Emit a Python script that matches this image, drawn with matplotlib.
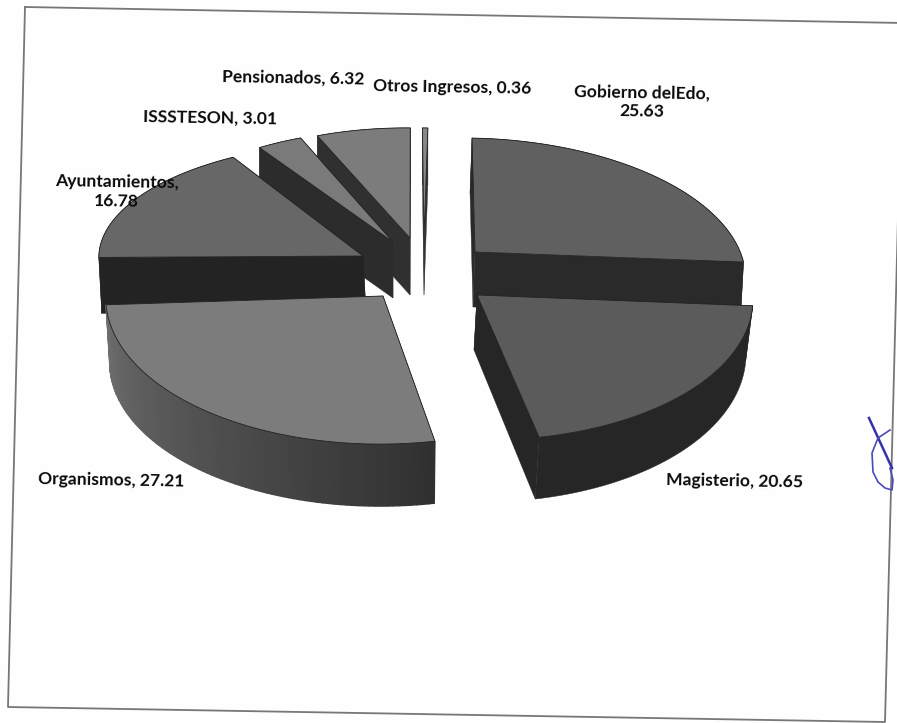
import numpy as np
import matplotlib
matplotlib.use("Agg")
import matplotlib.pyplot as plt

# data
categories = ["Gobierno delEdo", "Magisterio", "Organismos", "Ayuntamientos",
              "ISSSTESON", "Pensionados", "Otros Ingresos"]
values = [25.63, 20.65, 27.21, 16.78, 3.01, 6.32, 0.36]

# layout of each exploded slice, in pixels of the scan
apex_x = [475, 477, 383, 363, 393, 410, 424]
apex_y = [252, 295, 296, 256, 242, 238, 238]
radius_x = [267, 276, 277, 263, 245, 240, 240]
radius_y = [131, 145, 148, 114, 112, 110, 110]
persp = [0.15, 0, 0, 0, 0, 0, 0]
shear = [0.026, -0.01, -0.083, -0.22, -0.073, -0.052, -0.035]
tilt = [0.018, 0.018, 0.018, 0.035, 0.018, 0.018, 0.018]
# bottom of the slice: centre and radii
base_x = [473, 474, 383, 366, 393, 410, 424]
base_y = [307, 350, 361, 312, 298, 295, 295]
base_rx = [266, 272, 273, 263, 245, 240, 240]
base_ry = [131, 152, 145, 114, 112, 110, 110]

top_colors = ["#606060", "#5b5b5b", "#7c7c7c", "#676767", "#7a7a7a", "#7c7c7c", "#888888"]
wall_colors = ["#2a2a2a", "#262626", "#2e2e2e", "#232323", "#2c2c2c", "#303030", "#333333"]
draw_order = [6, 5, 4, 3, 0, 2, 1]

label_text = ["Gobierno delEdo,\n25.63", "Magisterio, 20.65", "Organismos, 27.21",
              "Ayuntamientos,\n16.78", "ISSSTESON, 3.01", "Pensionados, 6.32",
              "Otros Ingresos, 0.36"]
label_x = [642, 735, 111, 117, 210, 293, 452]
label_y = [102, 481, 480, 192, 118, 78, 87]

# sheet frame and the pen mark from the scan
frame_x = [25, 903, 885, 8, 25]
frame_y = [7, 23, 722, 707, 7]
pen_x = [869, 892]
pen_y = [418, 468]
loop_x = [890, 878, 872, 873, 878, 885, 892, 893, 890]
loop_y = [430, 438, 453, 472, 482, 488, 490, 480, 468]


def rim(i, t, cx, cy, rx, ry):
    s = 1 / (1 + persp[i] * np.cos(t))
    dx = rx * np.sin(t) * s
    dy = -ry * np.cos(t) * s
    return cx + dx + shear[i] * dy, cy + dy + tilt[i] * dx


def draw_slice(ax, i, t0, t1):
    t = np.linspace(t0, t1, 80)
    tx, ty = rim(i, t, apex_x[i], apex_y[i], radius_x[i], radius_y[i])
    bx, by = rim(i, t, base_x[i], base_y[i], base_rx[i], base_ry[i])
    c = wall_colors[i]

    # cut faces
    for k in (0, -1):
        ax.fill([apex_x[i], tx[k], bx[k], base_x[i]], [apex_y[i], ty[k], by[k], base_y[i]],
                color=c, lw=0.3)
    # curved wall, Organismos fades from mid grey to dark
    if i == 2:
        for k in range(len(t) - 1):
            g = 0.19 + 0.24 * k / (len(t) - 2)
            ax.fill([tx[k], tx[k + 1], bx[k + 1], bx[k]], [ty[k], ty[k + 1], by[k + 1], by[k]],
                    color=(g, g, g), lw=1.0)
    else:
        ax.fill(np.r_[tx, bx[::-1]], np.r_[ty, by[::-1]], color=c, lw=0.3)
    ax.fill(np.r_[apex_x[i], tx], np.r_[apex_y[i], ty], facecolor=top_colors[i],
            edgecolor="#222222", lw=0.6)


def main():
    fig = plt.figure(figsize=(8.97, 7.23), dpi=100, facecolor="#fefefe")
    ax = fig.add_axes([0, 0, 1, 1])
    ax.set_xlim(0, 897)
    ax.set_ylim(723, 0)
    ax.axis("off")

    ax.plot(frame_x, frame_y, color="#777777", lw=1.3)
    ax.plot(pen_x, pen_y, color="#3434a8", lw=1.8)
    ax.plot(loop_x, loop_y, color="#4a4ab8", lw=1.2)

    edges = np.r_[0, np.cumsum(values)] / sum(values) * 2 * np.pi
    for i in draw_order:
        draw_slice(ax, i, edges[i], edges[i + 1])

    for i in range(len(categories)):
        ax.text(label_x[i], label_y[i], label_text[i], family="Lato", weight="bold",
                fontsize=12.6, color="#0a0a0a", ha="center", va="center", rotation=-1,
                linespacing=1.25, multialignment="center", zorder=10)

    fig.savefig("out.png", dpi=100, facecolor=fig.get_facecolor())


if __name__ == "__main__":
    main()
